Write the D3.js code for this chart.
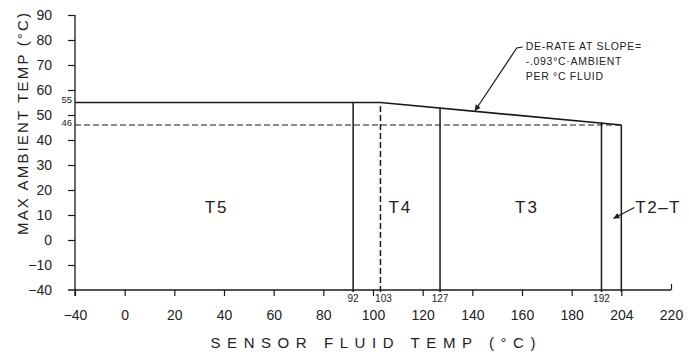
<!DOCTYPE html>
<html>
<head>
<meta charset="utf-8">
<script src="https://cdn.jsdelivr.net/npm/d3@7"></script>
<style>
  body { margin: 0; background: #fff; }
  svg text { font-family: "Liberation Sans", Arial, sans-serif; fill: #222; }
</style>
</head>
<body>
<div id="svg-container"></div>
<script>
// sensor derating chart - ambient vs fluid temp

const xTicks = [-40, 0, 20, 40, 60, 80, 100, 120, 140, 160, 180, 204, 220];
const yTicks = [-40, -10, 0, 10, 20, 30, 40, 50, 60, 70, 80, 90];

const maxAmbient = 55;
const derateStart = 103;
const derateEnd = 204;
const derateEndAmbient = 46;

// zone boundaries (fluid temp) and which ones are dashed
const zoneBounds = [92, 103, 127, 192, 204];
const zoneDashed = [false, true, false, false, false];
const zoneBoundLabels = ["92", "103", "127", "192", ""];

const zoneNames = ["T5", "T4", "T3"];
const zoneNameX = [37, 111, 162];
const zoneNameY = 13;

const noteLines = ["DE-RATE AT SLOPE=", "-.093°C·AMBIENT", "PER °C FLUID"];
const notePointX = 141;      // where the arrow touches the slope
const noteTextX = 161.5;
const noteTextY = 76;

const width = 689, height = 355;

const svg = d3.select("#svg-container").append("svg")
    .attr("width", width)
    .attr("height", height);

// the drawing has broken axes: -40 sits one step below 0 / -10,
// and 204 sits where 200 would be
const xBase = d3.scaleLinear().domain([-20, 220]).range([75, 671]);
const x = d3.scaleLinear()
    .domain([-40, 0, 192, 204, 220])
    .range([xBase(-20), xBase(0), xBase(192), xBase(200), xBase(220)]);

const yBase = d3.scaleLinear().domain([-20, 90]).range([290, 15]);
const y = d3.scaleLinear()
    .domain([-40, -10, 90])
    .range([yBase(-20), yBase(-10), yBase(90)]);

const derate = d3.scaleLinear().domain([derateStart, derateEnd]).range([maxAmbient, derateEndAmbient]);
const topAt = v => v <= derateStart ? maxAmbient : derate(v);

const ink = "#1a1a1a";

// axes
svg.append("line")
    .attr("x1", x(-40)).attr("x2", x(-40))
    .attr("y1", y(90)).attr("y2", y(-40) + 6)
    .attr("stroke", ink).attr("stroke-width", 1.3);

svg.append("line")
    .attr("x1", x(-40) - 7).attr("x2", x(220))
    .attr("y1", y(-40)).attr("y2", y(-40))
    .attr("stroke", ink).attr("stroke-width", 1.3);

const yAxis = d3.axisLeft(y).tickValues(yTicks).tickSize(7).tickPadding(16);
const gy = svg.append("g").attr("transform", `translate(${x(-40)},0)`).call(yAxis);
gy.select(".domain").remove();
gy.selectAll(".tick line").attr("stroke", ink).attr("stroke-width", 1.2);
gy.selectAll(".tick text")
    .attr("font-size", 14)
    .attr("font-family", "Liberation Sans, Arial, sans-serif")
    .style("fill", "#222");
gy.selectAll(".tick").filter(d => d === -40).select("line").remove();

const xAxis = d3.axisBottom(x).tickValues(xTicks).tickSize(6).tickPadding(14);
const gx = svg.append("g").attr("transform", `translate(0,${y(-40)})`).call(xAxis);
gx.select(".domain").remove();
gx.selectAll(".tick line").attr("stroke", ink).attr("stroke-width", 1.2);
gx.selectAll(".tick text")
    .attr("font-size", 14)
    .attr("font-family", "Liberation Sans, Arial, sans-serif")
    .style("fill", "#222");
gx.selectAll(".tick").filter(d => d === 220).select("line")
    .attr("y1", -6).attr("y2", 0);

// small value labels on the y axis
svg.selectAll("text.ymark")
    .data([maxAmbient, derateEndAmbient])
    .join("text")
    .attr("class", "ymark")
    .attr("x", x(-40) - 3)
    .attr("y", d => y(d))
    .attr("dy", "0.1em")
    .attr("text-anchor", "end")
    .attr("font-size", 9.5)
    .text(d => d);

// max ambient / derate line
svg.append("path")
    .datum([[-40, maxAmbient], [derateStart, maxAmbient], [derateEnd, derateEndAmbient]])
    .attr("d", d3.line().x(d => x(d[0])).y(d => y(d[1])))
    .attr("fill", "none")
    .attr("stroke", ink)
    .attr("stroke-width", 1.6);

// dashed 46 line
svg.append("line")
    .attr("x1", x(-40)).attr("x2", x(derateEnd))
    .attr("y1", y(derateEndAmbient)).attr("y2", y(derateEndAmbient))
    .attr("stroke", ink)
    .attr("stroke-width", 1.2)
    .attr("stroke-dasharray", "6,3");

// zone boundaries
svg.selectAll("line.zone")
    .data(zoneBounds)
    .join("line")
    .attr("class", "zone")
    .attr("x1", d => x(d)).attr("x2", d => x(d))
    .attr("y1", y(-40) + 2)
    .attr("y2", d => y(topAt(d)))
    .attr("stroke", ink)
    .attr("stroke-width", 1.5)
    .attr("stroke-dasharray", (d, i) => zoneDashed[i] ? "6,3" : null);

svg.selectAll("text.zonelbl")
    .data(zoneBounds)
    .join("text")
    .attr("class", "zonelbl")
    .attr("x", (d, i) => x(d) + (zoneDashed[i] ? 3 : 0))
    .attr("y", y(-40) + 12)
    .attr("text-anchor", "middle")
    .attr("font-size", 10)
    .text((d, i) => zoneBoundLabels[i]);

// zone names
svg.selectAll("text.zone")
    .data(zoneNames)
    .join("text")
    .attr("class", "zone")
    .attr("x", (d, i) => x(zoneNameX[i]))
    .attr("y", y(zoneNameY))
    .attr("dy", "0.35em")
    .attr("text-anchor", "middle")
    .attr("font-size", 17)
    .attr("letter-spacing", 2)
    .text(d => d);

// arrowheads
const defs = svg.append("defs");
defs.append("marker")
    .attr("id", "arrow")
    .attr("viewBox", "0 0 10 10")
    .attr("refX", 10).attr("refY", 5)
    .attr("markerWidth", 9).attr("markerHeight", 6)
    .attr("markerUnits", "userSpaceOnUse")
    .attr("orient", "auto")
    .append("path")
    .attr("d", "M0,0 L10,5 L0,10 Z")
    .attr("fill", ink);

// T2-T label with leader
const t2x = x(derateEnd) + 13;
const t2y = y(zoneNameY);
svg.append("text")
    .attr("x", t2x + 1)
    .attr("y", t2y)
    .attr("dy", "0.35em")
    .attr("font-size", 17)
    .attr("letter-spacing", 1.5)
    .text("T2–T");
svg.append("line")
    .attr("x1", t2x).attr("y1", t2y)
    .attr("x2", (x(192) + x(204)) / 2 + 2).attr("y2", t2y + 11)
    .attr("stroke", ink).attr("stroke-width", 1.2)
    .attr("marker-end", "url(#arrow)");

// slope note
const nx = x(noteTextX), ny = y(noteTextY);
svg.append("path")
    .attr("d", `M${nx - 3},${ny - 3} L${nx - 9},${ny - 2} L${x(notePointX)},${y(topAt(notePointX))}`)
    .attr("fill", "none")
    .attr("stroke", ink).attr("stroke-width", 1.2)
    .attr("marker-end", "url(#arrow)");
svg.append("text")
    .attr("x", nx)
    .attr("y", ny)
    .attr("font-size", 10.5)
    .attr("letter-spacing", 0.7)
    .selectAll("tspan")
    .data(noteLines)
    .join("tspan")
    .attr("x", nx)
    .attr("dy", (d, i) => i === 0 ? 0 : 15)
    .text(d => d);

// axis titles
svg.append("text")
    .attr("x", (x(-40) + x(220)) / 2)
    .attr("y", 348)
    .attr("text-anchor", "middle")
    .attr("font-size", 15)
    .attr("textLength", 325)
    .attr("lengthAdjust", "spacing")
    .text("SENSOR FLUID TEMP (°C)");

svg.append("text")
    .attr("transform", `translate(28,${124}) rotate(-90)`)
    .attr("text-anchor", "middle")
    .attr("font-size", 15)
    .attr("textLength", 222)
    .attr("lengthAdjust", "spacing")
    .text("MAX AMBIENT TEMP (°C)");
</script>
</body>
</html>
